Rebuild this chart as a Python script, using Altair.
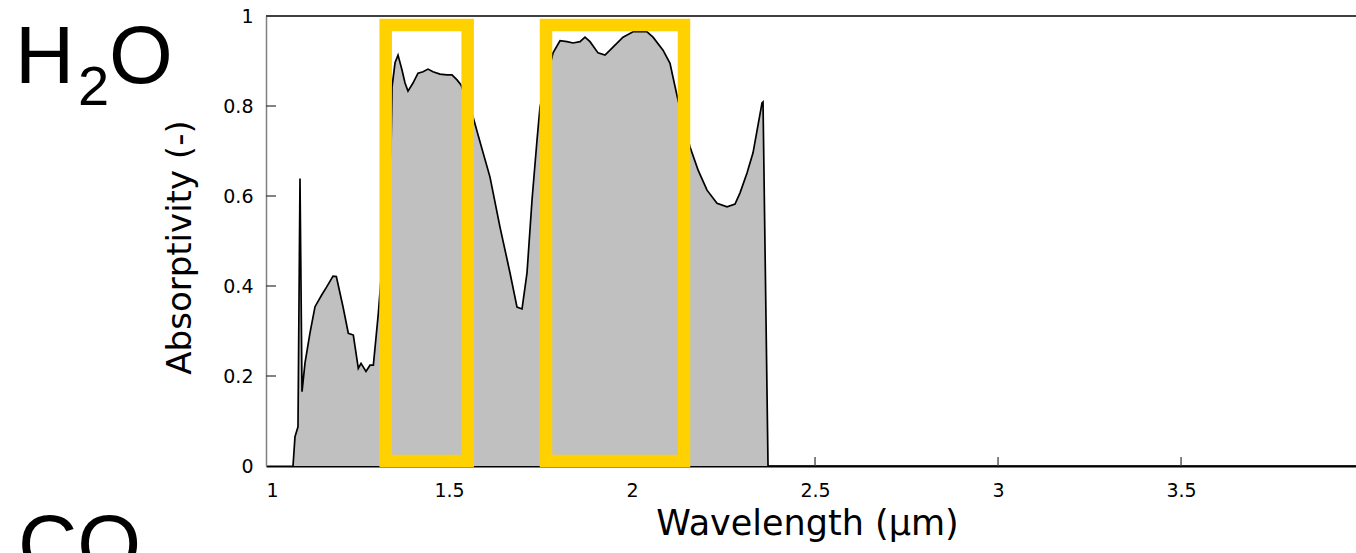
import altair as alt
import pandas as pd

# Absorptivity spectrum of H2O
wavelength = [1.0738, 1.0792, 1.0874, 1.0929, 1.0984, 1.1066, 1.1202, 1.1339, 1.1521, 1.1658,
              1.1831, 1.1922, 1.2104, 1.2249, 1.2386, 1.2522, 1.2596, 1.2732, 1.2842, 1.2933,
              1.3069, 1.3415, 1.3443, 1.3525, 1.3607, 1.3716, 1.3798, 1.3880, 1.4016, 1.4153,
              1.4290, 1.4426, 1.4563, 1.4754, 1.4945, 1.5082, 1.5219, 1.5328, 1.5656, 1.5792,
              1.6120, 1.6393, 1.6667, 1.6858, 1.6995, 1.7131, 1.7268, 1.7404, 1.7486, 1.7842,
              1.8033, 1.8224, 1.8388, 1.8579, 1.8716, 1.8852, 1.9071, 1.9262, 1.9481, 1.9754,
              2.0027, 2.0410, 2.0574, 2.0847, 2.1038, 2.1120, 2.1257, 2.1585, 2.1803, 2.2049,
              2.2322, 2.2596, 2.2814, 2.2951, 2.3142, 2.3306, 2.3552, 2.3579, 2.3716, 3.978]
absorptivity = [0.0, 0.065, 0.087, 0.639, 0.165, 0.229, 0.296, 0.354, 0.380, 0.398,
                0.422, 0.421, 0.354, 0.295, 0.291, 0.217, 0.228, 0.210, 0.224, 0.224,
                0.339, 0.702, 0.842, 0.896, 0.913, 0.880, 0.851, 0.833, 0.851, 0.873,
                0.876, 0.882, 0.876, 0.871, 0.869, 0.869, 0.858, 0.847, 0.776, 0.736,
                0.642, 0.531, 0.429, 0.353, 0.349, 0.429, 0.591, 0.724, 0.798, 0.918,
                0.945, 0.943, 0.940, 0.943, 0.953, 0.943, 0.918, 0.913, 0.931, 0.953,
                0.965, 0.965, 0.953, 0.924, 0.895, 0.864, 0.813, 0.709, 0.658, 0.613,
                0.584, 0.576, 0.582, 0.607, 0.651, 0.696, 0.807, 0.809, 0.0, 0.0]

# Highlighted bands (yellow boxes)
box_x0 = [1.327, 1.765]
box_x1 = [1.551, 2.142]
box_y0 = [0.011, 0.011]
box_y1 = [0.980, 0.980]

x_tick_values = [1, 1.5, 2, 2.5, 3, 3.5]
y_tick_values = [0, 0.2, 0.4, 0.6, 0.8, 1]
x_inner_ticks = [1.5, 2, 2.5, 3, 3.5]
y_inner_ticks = [0.2, 0.4, 0.6, 0.8]

W, H = 1090, 450
TICK_FONT = "DejaVu Sans"
BIG_FONT = "Liberation Sans"

spec = pd.DataFrame({"wl": wavelength, "ab": absorptivity})
boxes = pd.DataFrame({"x0": box_x0, "x1": box_x1, "y0": box_y0, "y1": box_y1})
xt = pd.DataFrame({"v": x_inner_ticks})
yt = pd.DataFrame({"v": y_inner_ticks})
one = pd.DataFrame({"a": [0]})

xscale = alt.Scale(domain=[1, 3.978], nice=False, zero=False)
yscale = alt.Scale(domain=[0, 1], nice=False)

xaxis = alt.Axis(values=x_tick_values, format="~g", ticks=False, tickSize=0, grid=False,
                 labelFont=TICK_FONT, labelFontSize=19, labelColor="#000000", labelPadding=15,
                 domainColor="#000000", domainWidth=2,
                 title="Wavelength (µm)", titleFont=TICK_FONT, titleFontSize=35,
                 titleFontWeight="normal", titleColor="#000000",
                 titleX=541, titleY=68, titleBaseline="alphabetic", titleAnchor="middle")
yaxis = alt.Axis(values=y_tick_values, format="~g", ticks=False, tickSize=0, grid=False,
                 labelFont=TICK_FONT, labelFontSize=19, labelColor="#000000", labelPadding=13,
                 domainColor="#808080", domainWidth=1.5,
                 title="Absorptivity (-)", titleFont=TICK_FONT, titleFontSize=34,
                 titleFontWeight="normal", titleColor="#000000",
                 titleX=-76, titleY=231, titleBaseline="alphabetic", titleAngle=-90)

base = alt.Chart(spec)
area = base.mark_area(color="#C0C0C0", opacity=1).encode(
    x=alt.X("wl:Q", scale=xscale, axis=xaxis),
    y=alt.Y("ab:Q", scale=yscale, axis=yaxis),
)
line = base.mark_line(color="#000000", strokeWidth=1.7).encode(
    x=alt.X("wl:Q", scale=xscale),
    y=alt.Y("ab:Q", scale=yscale),
)

top_rule = alt.Chart(one).mark_rule(color="#404040", strokeWidth=2).encode(
    x=alt.value(0), x2=alt.value(W), y=alt.value(0)
)
xticks = alt.Chart(xt).mark_rule(color="#404040", strokeWidth=1.3).encode(
    x=alt.X("v:Q", scale=xscale), y=alt.value(H), y2=alt.value(H - 9)
)
yticks = alt.Chart(yt).mark_rule(color="#404040", strokeWidth=1.3).encode(
    y=alt.Y("v:Q", scale=yscale), x=alt.value(0), x2=alt.value(10)
)

rects = alt.Chart(boxes).mark_rect(fillOpacity=0, stroke="#FFD100", strokeWidth=12.5).encode(
    x=alt.X("x0:Q", scale=xscale), x2="x1:Q",
    y=alt.Y("y0:Q", scale=yscale), y2="y1:Q",
)

def label(txt, x, y, size):
    return alt.Chart(one).mark_text(text=txt, font=BIG_FONT, fontSize=size, color="#000000",
                                    align="left", baseline="alphabetic").encode(
        x=alt.value(x), y=alt.value(y))

h_txt = label("H", -251, 67, 82)
two_txt = label("2", -188, 89, 56)
o_txt = label("O", -157, 67, 82)
co_txt = label("CO", -248, 556, 82)

chart = alt.layer(area, line, top_rule, xticks, yticks, rects, h_txt, two_txt, o_txt, co_txt).properties(
    width=W, height=H,
    autosize=alt.AutoSizeParams(type="none"),
    padding={"left": 266, "top": 16, "right": 0, "bottom": 87},
).configure_view(stroke=None).configure(background="#FFFFFF")

chart.save("out.html", embed_options={"renderer": "svg", "actions": False})
